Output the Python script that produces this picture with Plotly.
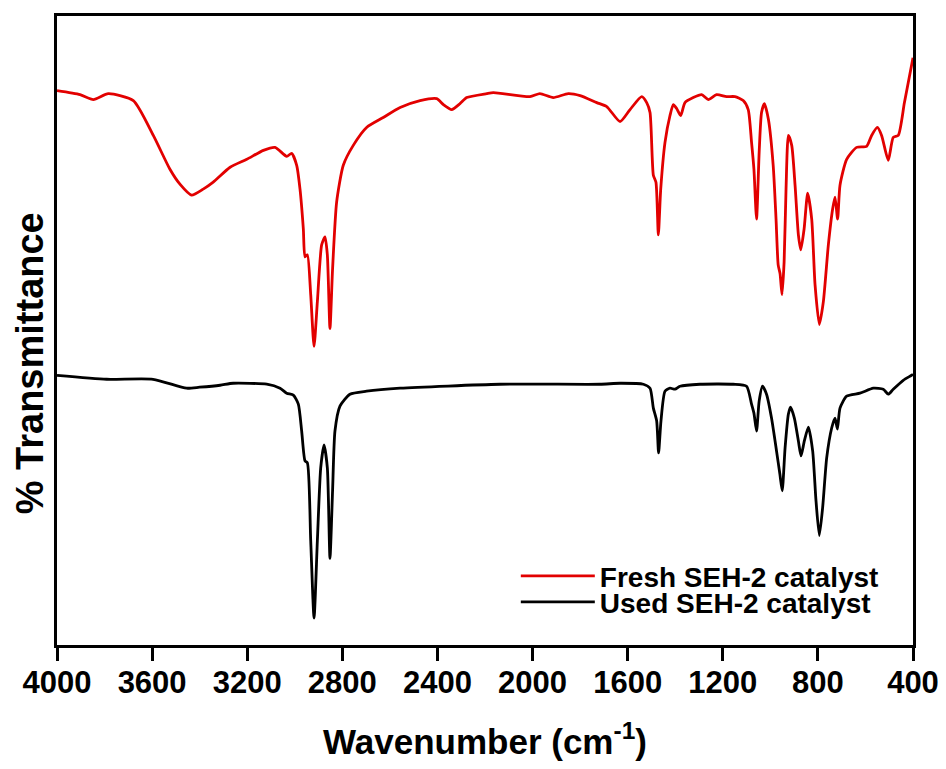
import plotly.graph_objects as go

# Wavenumber (cm^-1) and transmittance (arbitrary units, offset traces)
fresh_wn = [4000, 3903, 3847, 3784, 3679, 3595, 3525, 3483, 3434, 3385, 3343, 3272, 3202, 3132,
            3083, 3034, 3013, 2992, 2978, 2964, 2957, 2947, 2933, 2919, 2905, 2887, 2873, 2863,
            2852, 2841, 2824, 2796, 2754, 2698, 2628, 2557, 2473, 2403, 2375, 2340, 2305, 2277,
            2193, 2165, 2011, 1969, 1913, 1850, 1800, 1730, 1688, 1632, 1590, 1541, 1520, 1506,
            1492, 1481, 1471, 1461, 1443, 1422, 1408, 1394, 1377, 1359, 1324, 1289, 1261, 1226,
            1184, 1149, 1114, 1093, 1079, 1069, 1058, 1047, 1037, 1025, 1008, 988, 976, 967, 959,
            951, 942, 934, 924, 910, 896, 882, 872, 858, 843, 826, 812, 794, 777, 756, 738, 728,
            717, 707, 679, 637, 595, 574, 550, 532, 504, 483, 462, 436, 400]
fresh_t = [557, 553, 548, 554, 547, 512, 478, 463, 452, 458, 465, 480, 488, 497,
           500, 491, 494, 482, 458, 418, 390, 392, 352, 300, 345, 402, 410, 392,
           318, 378, 445, 482, 502, 520, 530, 540, 547, 549, 543, 538, 544, 550,
           554, 555, 551, 554, 550, 554, 552, 545, 541, 526, 538, 551, 545, 535,
           472, 465, 412, 458, 505, 532, 543, 539, 532, 545, 550, 553, 548, 553,
           551, 551, 547, 538, 505, 478, 428, 495, 535, 544, 528, 482, 428, 382, 373,
           352, 385, 458, 512, 502, 462, 412, 397, 418, 454, 428, 362, 322, 345, 402, 438, 450,
           428, 462, 488, 500, 501, 512, 520, 512, 487, 510, 512, 545, 590]

used_wn = [4000, 3791, 3596, 3455, 3400, 3314, 3259, 3118, 3062, 3034, 3006, 2985, 2971, 2957,
           2947, 2933, 2919, 2905, 2891, 2877, 2863, 2852, 2841, 2831, 2810, 2768, 2698, 2557,
           2137, 1717, 1632, 1534, 1506, 1492, 1478, 1470, 1460, 1443, 1422, 1401, 1380, 1296,
           1156, 1100, 1079, 1069, 1058, 1047, 1033, 1016, 995, 974, 960, 950, 938, 924, 915,
           899, 882, 871, 857, 840, 822, 808, 794, 780, 763, 742, 728, 718, 707, 679, 623, 567,
           525, 504, 483, 441, 406, 400]
used_t = [271, 267, 267, 258, 259, 261, 263, 262, 258, 253, 251, 242, 215, 185,
          183, 105, 27, 105, 178, 201, 178, 87, 155, 215, 240, 252, 255, 258,
          262, 262, 263, 262, 258, 238, 225, 193, 225, 255, 258, 257, 260, 262,
          262, 260, 242, 233, 215, 245, 260, 252, 228, 195, 172, 155, 198, 232, 239,
          228, 205, 190, 205, 219, 195, 145, 110, 138, 188, 218, 228, 217, 238, 250, 253, 258,
          257, 252, 257, 266, 271, 272]

x_ticks = [4000, 3600, 3200, 2800, 2400, 2000, 1600, 1200, 800, 400]

FONT = "Liberation Sans, Arial, sans-serif"

fig = go.Figure()
fig.add_trace(go.Scatter(x=fresh_wn, y=fresh_t, mode="lines", name="Fresh SEH-2 catalyst",
                         legend="legend",
                         line=dict(color="rgb(226,0,0)", width=2.8, shape="spline", smoothing=0.6)))
fig.add_trace(go.Scatter(x=used_wn, y=used_t, mode="lines", name="Used SEH-2 catalyst",
                         legend="legend2",
                         line=dict(color="black", width=2.8, shape="spline", smoothing=0.6)))

leg_common = dict(xanchor="left", yanchor="middle", bgcolor="rgba(0,0,0,0)",
                  font=dict(size=28, family=FONT, weight="bold"), itemwidth=74)

fig.update_layout(
    width=938, height=753,
    margin=dict(l=49, r=33, t=5, b=116),
    paper_bgcolor="white", plot_bgcolor="white",
    font=dict(family=FONT, color="black"),
    showlegend=True,
    legend=dict(x=0.536, y=0.1095, **leg_common),
    legend2=dict(x=0.536, y=0.068, **leg_common),
    xaxis=dict(range=[4000, 400], tickvals=x_ticks, ticktext=[str(v) for v in x_ticks],
               ticks="outside", ticklen=13, tickwidth=2.5, tickcolor="black",
               ticklabeloverflow="allow", ticklabelstandoff=-5,
               showline=True, linewidth=2.5, linecolor="black", mirror=True,
               showgrid=False, zeroline=False,
               tickfont=dict(size=31, family=FONT, weight="bold"),
               title=dict(text="Wavenumber (cm<sup>-1</sup>)",
                          font=dict(size=35, family=FONT, weight="bold"), standoff=32)),
    yaxis=dict(range=[0, 632], showticklabels=False, ticks="",
               showline=True, linewidth=2.5, linecolor="black", mirror=True,
               showgrid=False, zeroline=False),
    annotations=[dict(text="% Transmittance", textangle=-90, xref="paper", yref="paper",
                      x=-0.0315, y=0.448, xanchor="center", yanchor="middle", showarrow=False,
                      font=dict(size=38, family=FONT, weight="bold"))],
)

fig.write_html("out.html")
